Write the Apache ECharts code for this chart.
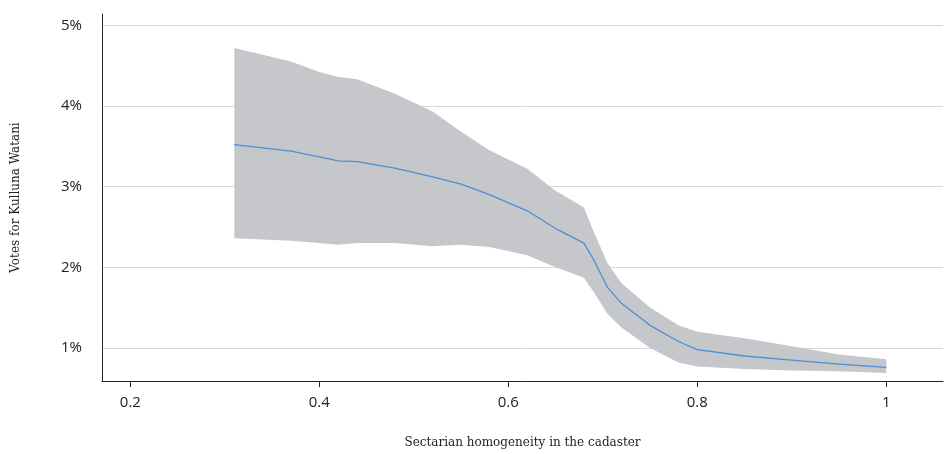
<!DOCTYPE html>
<html>
<head>
<meta charset="utf-8">
<script src="https://cdn.jsdelivr.net/npm/echarts@6/dist/echarts.min.js"></script>
<style>html,body{margin:0;padding:0;background:#fff;}#chart{width:945px;height:454px;}</style>
</head>
<body>
<div id="chart"></div>
<script>
// homogeneity values
var xs = [0.31, 0.37, 0.40, 0.42, 0.44, 0.48, 0.52, 0.55, 0.58, 0.62, 0.65, 0.68, 0.69, 0.705, 0.72, 0.75, 0.78, 0.80, 0.85, 0.90, 0.95, 1.00];
var meanVals = [3.52, 3.44, 3.37, 3.32, 3.31, 3.23, 3.12, 3.03, 2.90, 2.70, 2.48, 2.30, 2.10, 1.75, 1.55, 1.28, 1.08, 0.98, 0.90, 0.85, 0.80, 0.76];
var upperVals = [4.72, 4.55, 4.42, 4.36, 4.33, 4.15, 3.93, 3.68, 3.45, 3.22, 2.95, 2.74, 2.45, 2.05, 1.80, 1.50, 1.28, 1.20, 1.12, 1.02, 0.92, 0.86];
var lowerVals = [2.36, 2.33, 2.30, 2.28, 2.30, 2.30, 2.26, 2.28, 2.25, 2.15, 2.00, 1.87, 1.70, 1.42, 1.25, 1.00, 0.82, 0.77, 0.74, 0.72, 0.71, 0.69];
var xTicks = [0.2, 0.4, 0.6, 0.8, 1];
var yTicks = [1, 2, 3, 4, 5];

function pairs(vals) {
    return xs.map(function (x, i) { return [x, vals[i]]; });
}
var bandData = xs.map(function (x, i) { return [x, lowerVals[i], upperVals[i]]; });

var chart = echarts.init(document.getElementById('chart'));
var option = {
    animation: false,
    grid: { left: 102, right: 2, top: 14, bottom: 73 },
    xAxis: {
        type: 'value', min: 0.17, max: 1.06,
        name: 'Sectarian homogeneity in the cadaster',
        nameLocation: 'middle', nameGap: 56,
        nameTextStyle: { fontFamily: 'DejaVu Serif', fontSize: 12, color: '#222' },
        axisLine: { show: true, lineStyle: { color: '#222' } },
        axisTick: { show: true, length: 6, lineStyle: { color: '#222' }, customValues: xTicks },
        axisLabel: { color: '#222', fontSize: 15, margin: 14, fontFamily: 'Open Sans', customValues: xTicks,
            formatter: function (v) { return String(v); } },
        splitLine: { show: false }
    },
    yAxis: {
        type: 'value', min: 0.59, max: 5.14,
        name: 'Votes for Kulluna Watani',
        nameLocation: 'middle', nameGap: 80,
        nameTextStyle: { fontFamily: 'DejaVu Serif', fontSize: 12, color: '#222' },
        axisLine: { show: true, lineStyle: { color: '#222' } },
        axisTick: { show: false },
        axisLabel: { color: '#222', fontSize: 15, margin: 20, fontFamily: 'Open Sans',
            customValues: yTicks, formatter: function (v) { return Math.round(v) + '%'; } },
        splitLine: { show: true, showMaxLine: false, showMinLine: false, lineStyle: { color: '#d9d9d9' }, customValues: yTicks }
    },
    series: [
        {
            type: 'custom', data: bandData, silent: true,
            renderItem: function (params, api) {
                if (params.dataIndex !== 0) return;
                var top = [], bottom = [];
                for (var i = 0; i < bandData.length; i++) {
                    top.push(api.coord([bandData[i][0], bandData[i][2]]));
                    bottom.unshift(api.coord([bandData[i][0], bandData[i][1]]));
                }
                return { type: 'polygon', shape: { points: top.concat(bottom) }, style: { fill: '#c6c7cb' } };
            }
        },
        { type: 'line', data: pairs(meanVals), symbol: 'none', lineStyle: { color: '#4a8fd6', width: 1.3 } }
    ]
};
chart.setOption(option);
</script>
</body>
</html>
